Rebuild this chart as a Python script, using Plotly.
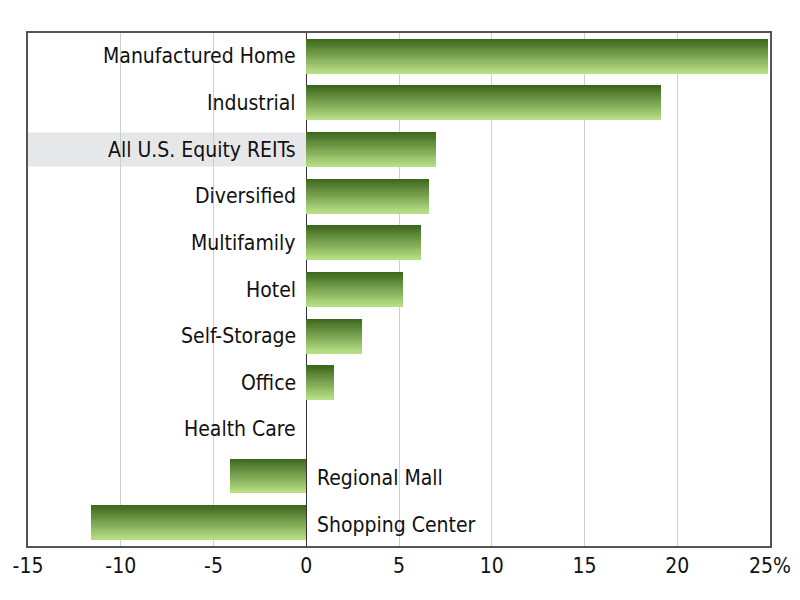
import plotly.graph_objects as go

categories = ["Manufactured Home", "Industrial", "All U.S. Equity REITs", "Diversified",
              "Multifamily", "Hotel", "Self-Storage", "Office", "Health Care",
              "Regional Mall", "Shopping Center"]
values = [24.9, 19.1, 7.0, 6.6, 6.2, 5.2, 3.0, 1.5, 0.0, -4.1, -11.6]
highlight = "All U.S. Equity REITs"
tick_vals = [-15, -10, -5, 0, 5, 10, 15, 20, 25]
tick_text = ["-15", "-10", "-5", "0", "5", "10", "15", "20", "25%"]

FONT = "Liberation Sans Narrow, DejaVu Sans Condensed, Arial Narrow, sans-serif"
ypos = list(range(len(categories)))
bar_w = 0.73
N = 30
top_rgb = (60, 104, 28)
bot_rgb = (182, 222, 132)

fig = go.Figure()
for i in range(N):
    t = i / (N - 1)
    c = tuple(round(top_rgb[k] + (bot_rgb[k] - top_rgb[k]) * t) for k in range(3))
    fig.add_trace(go.Bar(
        y=ypos, x=values, orientation="h",
        width=bar_w / N * 1.15,
        offset=-bar_w / 2 + i * bar_w / N,
        marker=dict(color="rgb(%d,%d,%d)" % c, line=dict(width=0)),
        showlegend=False, hoverinfo="skip",
    ))

hi = categories.index(highlight)
fig.add_shape(type="rect", xref="x", yref="y", x0=-15, x1=0,
              y0=hi - bar_w / 2, y1=hi + bar_w / 2,
              fillcolor="#e6e7e8", line=dict(width=0), layer="below")

for y, cat, v in zip(ypos, categories, values):
    if v >= 0:
        fig.add_annotation(x=0, y=y, xref="x", yref="y", text=cat, showarrow=False,
                           xanchor="right", xshift=-8, font=dict(family=FONT, size=21, color="#111"))
    else:
        fig.add_annotation(x=0, y=y, xref="x", yref="y", text=cat, showarrow=False,
                           xanchor="left", xshift=9, yshift=-2, font=dict(family=FONT, size=21, color="#111"))

fig.update_layout(
    width=800, height=600,
    margin=dict(l=20, r=38, t=25, b=62, autoexpand=False),
    paper_bgcolor="white", plot_bgcolor="white",
    barmode="overlay", bargap=0,
    xaxis=dict(range=[-15, 25], tickvals=tick_vals, ticktext=tick_text, automargin=False,
               showgrid=True, gridcolor="#d0d0d0", gridwidth=1.2,
               zeroline=True, zerolinecolor="#333", zerolinewidth=1.2,
               showline=True, linecolor="#555", linewidth=1.5, mirror=True,
               ticks="", tickfont=dict(family=FONT, size=21, color="#111")),
    yaxis=dict(range=[len(categories) - 0.5, -0.5], showticklabels=False, automargin=False,
               showgrid=False, zeroline=False,
               showline=True, linecolor="#555", linewidth=1.5, mirror=True, ticks=""),
)

fig.write_html("out.html")
